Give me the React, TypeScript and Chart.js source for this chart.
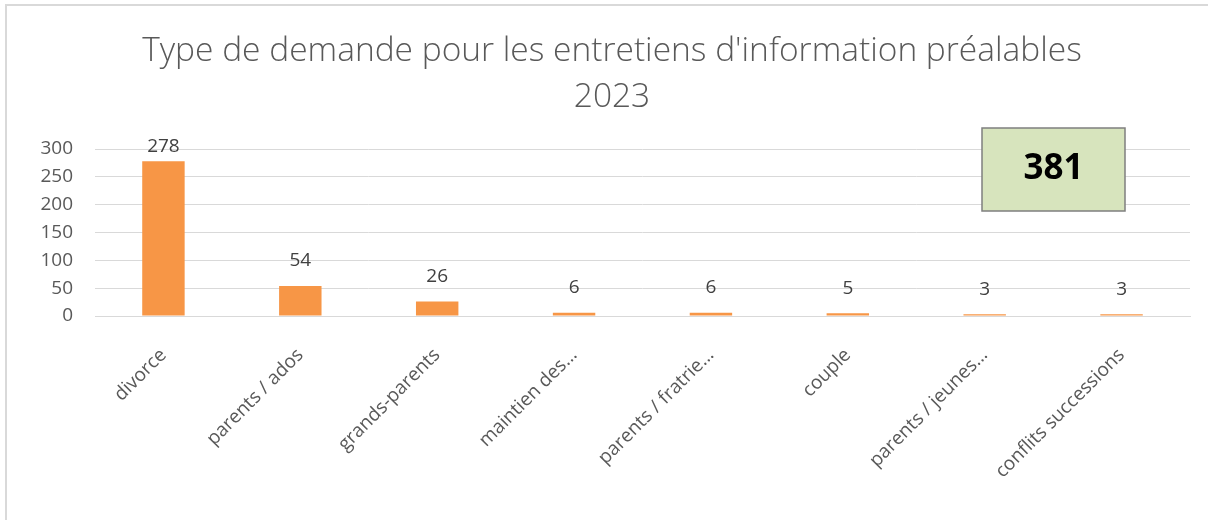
import React, { useEffect, useRef } from "react";
import { Chart, registerables } from "chart.js";

Chart.register(...registerables);

const categories = [
  "divorce",
  "parents / ados",
  "grands-parents",
  "maintien des…",
  "parents / fratrie…",
  "couple",
  "parents / jeunes…",
  "conflits successions",
];
const values = [278, 54, 26, 6, 6, 5, 3, 3];
const titleLines = ["Type de demande pour les entretiens d'information préalables", "2023"];
const totalLabel = "381";
const yTicks = [0, 50, 100, 150, 200, 250, 300];

const FONT = "'Open Sans', 'Liberation Sans', sans-serif";

const overlayPlugin = {
  id: "overlay",
  afterDatasetsDraw(chart: any) {
    const ctx = chart.ctx;
    const area = chart.chartArea;
    const meta = chart.getDatasetMeta(0);
    ctx.save();
    ctx.fillStyle = "#404040";
    ctx.font = `19px ${FONT}`;
    ctx.textAlign = "center";
    ctx.textBaseline = "middle";
    meta.data.forEach((bar: any, i: number) => {
      const y = Math.max(bar.y - 25, area.top - 2);
      ctx.fillText(String(values[i]), bar.x, y);
    });
    ctx.restore();
  },
  afterDraw(chart: any) {
    const ctx = chart.ctx;
    const area = chart.chartArea;
    ctx.save();
    ctx.fillStyle = "#595959";
    ctx.font = `300 33.5px ${FONT}`;
    ctx.textAlign = "center";
    ctx.textBaseline = "middle";
    ctx.fillText(titleLines[0], 612, 51);
    ctx.fillText(titleLines[1], 612, 97);
    const bx = area.right - 208;
    const by = area.top - 21;
    const bw = 143;
    const bh = 83;
    ctx.fillStyle = "#d7e4bd";
    ctx.fillRect(bx, by, bw, bh);
    ctx.strokeStyle = "#7f7f7f";
    ctx.lineWidth = 1.5;
    ctx.strokeRect(bx, by, bw, bh);
    ctx.fillStyle = "#000000";
    ctx.font = `bold 35px ${FONT}`;
    ctx.fillText(totalLabel, bx + bw / 2, by + bh / 2);
    ctx.restore();
  },
};

export default function App() {
  const ref = useRef<HTMLCanvasElement | null>(null);
  useEffect(() => {
    if (!ref.current) return;
    const chart = new Chart(ref.current, {
      type: "bar",
      data: {
        labels: categories,
        datasets: [
          {
            data: values,
            backgroundColor: "#f79646",
            borderWidth: 0,
            barPercentage: 0.31,
            categoryPercentage: 1,
          },
        ],
      },
      options: {
        animation: false,
        responsive: false,
        maintainAspectRatio: false,
        layout: { padding: { left: 0, right: 18, top: 149, bottom: 0 } },
        plugins: { legend: { display: false }, tooltip: { enabled: false }, title: { display: false } },
        scales: {
          x: {
            grid: { display: false },
            border: { display: true, color: "#d9d9d9", width: 1 },
            ticks: {
              minRotation: 45,
              maxRotation: 45,
              autoSkip: false,
              color: "#595959",
              font: { family: FONT, size: 19 },
              padding: 20,
            },
            afterFit(scale: any) {
              scale.height = 204;
            },
          },
          y: {
            min: 0,
            max: 300,
            afterBuildTicks(scale: any) {
              scale.ticks = yTicks.map((v) => ({ value: v }));
            },
            grid: { color: "#d9d9d9", lineWidth: 1, drawTicks: false },
            border: { display: false },
            ticks: {
              color: "#595959",
              font: { family: FONT, size: 19 },
              padding: 22,
            },
            afterFit(scale: any) {
              scale.width = 95;
            },
          },
        },
      },
      plugins: [overlayPlugin],
    });
    return () => chart.destroy();
  }, []);
  return (
    <div style={{ position: "fixed", left: 0, top: 0, width: 1208, height: 520, background: "#fff", overflow: "hidden" }}>
      <div
        style={{
          position: "absolute",
          left: 5,
          top: 4,
          width: 1230,
          height: 540,
          border: "2px solid #d9d9d9",
          boxSizing: "border-box",
        }}
      />
      <canvas ref={ref} width={1208} height={520} style={{ position: "absolute", left: 0, top: 0, width: 1208, height: 520 }} />
    </div>
  );
}
